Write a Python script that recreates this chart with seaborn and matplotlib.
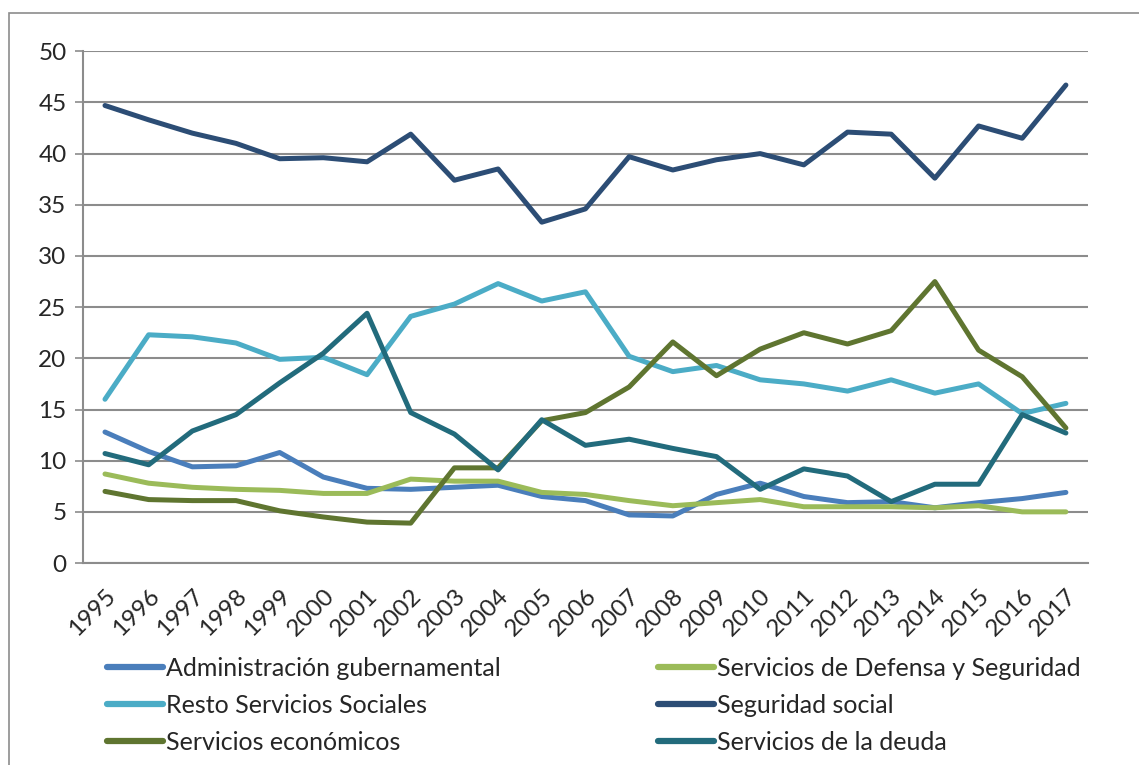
import matplotlib
matplotlib.use("Agg")
import matplotlib.pyplot as plt
from matplotlib.patches import Rectangle
import numpy as np
import pandas as pd
import seaborn as sns

years = list(range(1995, 2018))

administracion = [12.8, 10.9, 9.4, 9.5, 10.8, 8.4, 7.3, 7.2, 7.4, 7.6, 6.5, 6.1,
                  4.7, 4.6, 6.7, 7.8, 6.5, 5.9, 6.0, 5.4, 5.9, 6.3, 6.9]
defensa = [8.7, 7.8, 7.4, 7.2, 7.1, 6.8, 6.8, 8.2, 8.0, 8.0, 6.9, 6.7,
           6.1, 5.6, 5.9, 6.2, 5.5, 5.5, 5.5, 5.4, 5.6, 5.0, 5.0]
resto_sociales = [16.0, 22.3, 22.1, 21.5, 19.9, 20.1, 18.4, 24.1, 25.3, 27.3, 25.6, 26.5,
                  20.2, 18.7, 19.3, 17.9, 17.5, 16.8, 17.9, 16.6, 17.5, 14.6, 15.6]
seguridad_social = [44.7, 43.3, 42.0, 41.0, 39.5, 39.6, 39.2, 41.9, 37.4, 38.5, 33.3, 34.6,
                    39.7, 38.4, 39.4, 40.0, 38.9, 42.1, 41.9, 37.6, 42.7, 41.5, 46.7]
economicos = [7.0, 6.2, 6.1, 6.1, 5.1, 4.5, 4.0, 3.9, 9.3, 9.3, 13.9, 14.7,
              17.2, 21.6, 18.3, 20.9, 22.5, 21.4, 22.7, 27.5, 20.8, 18.2, 13.2]
deuda = [10.7, 9.6, 12.9, 14.5, 17.6, 20.5, 24.4, 14.7, 12.6, 9.1, 14.0, 11.5,
         12.1, 11.2, 10.4, 7.2, 9.2, 8.5, 6.0, 7.7, 7.7, 14.5, 12.7]

series = {
    "Administración gubernamental": administracion,
    "Servicios de Defensa y Seguridad": defensa,
    "Resto Servicios Sociales": resto_sociales,
    "Seguridad social": seguridad_social,
    "Servicios económicos": economicos,
    "Servicios de la deuda": deuda,
}
palette = {
    "Administración gubernamental": "#4a7ebb",
    "Servicios de Defensa y Seguridad": "#9bbb59",
    "Resto Servicios Sociales": "#4bacc6",
    "Seguridad social": "#2c4d75",
    "Servicios económicos": "#5f7530",
    "Servicios de la deuda": "#226b7c",
}

df = pd.DataFrame(series)
df["pos"] = np.arange(len(years))
long = df.melt(id_vars="pos", var_name="serie", value_name="valor")

sns.set_theme(style="white")
plt.rcParams["font.family"] = ["Lato", "DejaVu Sans"]

fig = plt.figure(figsize=(11.39, 7.65), dpi=100)
ax = fig.add_axes([0.073, 0.264, 0.882, 0.669])

sns.lineplot(data=long, x="pos", y="valor", hue="serie", palette=palette,
             linewidth=3.6, ax=ax, legend=False, solid_capstyle="round")

ax.set_xlim(-0.5, len(years) - 0.5)
ax.set_ylim(0, 50)
ax.set_yticks(range(0, 51, 5))
ax.yaxis.grid(True, color="#8c8c8c", linewidth=1.5)
ax.set_axisbelow(True)
ax.set_xticks(np.arange(len(years)))
ax.set_xticklabels([str(y) for y in years], rotation=45, ha="right",
                   rotation_mode="anchor", fontsize=17.5)
ax.set_xticks(np.arange(-0.5, len(years)), minor=True)
ax.tick_params(axis="x", which="major", length=0, pad=16)
ax.tick_params(axis="x", which="minor", length=6, color="#8c8c8c", width=1.2, direction="out")
ax.tick_params(axis="y", length=6, color="#8c8c8c", width=1.2, direction="out",
               labelsize=17.5, left=True, pad=6)
ax.set_xlabel("")
ax.set_ylabel("")
for side in ["top", "right"]:
    ax.spines[side].set_visible(False)
for side in ["left", "bottom"]:
    ax.spines[side].set_color("#8c8c8c")
    ax.spines[side].set_linewidth(1.5)

# legend, in Excel order (row by row)
order = ["Administración gubernamental", "Resto Servicios Sociales", "Servicios económicos",
         "Servicios de Defensa y Seguridad", "Seguridad social", "Servicios de la deuda"]
handles = [plt.Line2D([], [], color=palette[k], linewidth=4.5) for k in order]
fig.legend(handles, order, loc="upper left", bbox_to_anchor=(0.085, 0.154),
           ncol=2, frameon=False, fontsize=18, handlelength=2.25, handletextpad=0.1,
           columnspacing=6.3, labelspacing=0.55, borderaxespad=0)

# chart border (only left and top edges fall inside the image)
fig.patches.append(Rectangle((0.008, -0.05), 1.5, 1.033, transform=fig.transFigure,
                             fill=False, edgecolor="#8c8c8c", linewidth=1.2))

fig.savefig("out.png", dpi=100)
